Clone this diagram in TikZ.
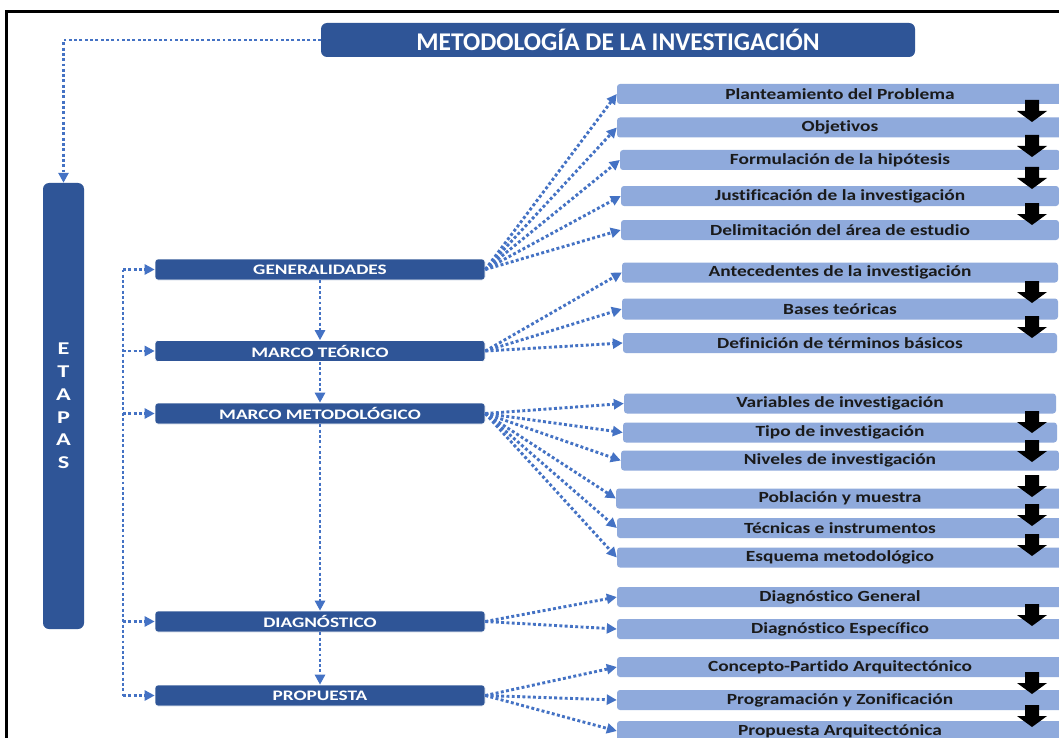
\documentclass[tikz,border=0pt]{standalone}
\usepackage{fontspec}
\setmainfont{Carlito}[RawFeature={-liga;-clig;-calt}]
\newfontfamily\detailfont[FakeStretch=1.25,RawFeature={-liga;-clig;-calt}]{Carlito}
\newfontfamily\stagefont[FakeStretch=1.33,RawFeature={-liga;-clig;-calt}]{Carlito}
\newfontfamily\etapafont[FakeStretch=1.35]{Carlito}
\usetikzlibrary{arrows.meta}
\definecolor{darkblue}{HTML}{2F5597}
\definecolor{lightblue}{HTML}{8FAADC}
\definecolor{lineblue}{HTML}{4472C4}
\definecolor{textdark}{HTML}{1A1A1A}
\begin{document}
\begin{tikzpicture}[x=1pt,y=-1pt,
  titlebox/.style={fill=darkblue, rounded corners=6pt, text=white, font=\fontsize{25.5}{28}\selectfont\bfseries, minimum width=594pt, minimum height=34pt, inner sep=0pt},
  etapabox/.style={fill=darkblue, rounded corners=6pt, text=white, font=\etapafont\fontsize{18}{22.8}\selectfont\bfseries, minimum width=41pt, minimum height=446pt, inner sep=0pt, align=center},
  stagebox/.style={fill=darkblue, draw=white, line width=0.6pt, rounded corners=3pt, text=white, font=\stagefont\fontsize{14.5}{16}\selectfont\bfseries, minimum width=330pt, minimum height=21pt, inner sep=0pt},
  detailbox/.style={fill=lightblue, rounded corners=3pt, text=textdark, font=\detailfont\fontsize{15.5}{17}\selectfont\bfseries, minimum width=446pt, minimum height=20pt, inner sep=0pt},
  conn/.style={draw=lineblue, line width=2.9pt, dash pattern=on 2.9pt off 2.4pt},
  arrowtip/.style={-{Triangle[length=10pt,width=10pt]}},
  blockarrow/.style={fill=black}]
\clip (0,0) rectangle (1059,738);
\fill[white] (0,0) rectangle (1059,738);
\draw[line width=3pt] (6,750) -- (6,12) -- (1070,12);

% title and etapas
\node[titlebox] (title) at (618,40) {METODOLOGÍA DE LA INVESTIGACIÓN};
\node[etapabox] (etapas) at (63.5,406) {E\\T\\A\\P\\A\\S};

% stages
\node[stagebox] (gen)  at (320,269.5) {GENERALIDADES};
\node[stagebox] (mt)   at (320,351)   {MARCO TEÓRICO};
\node[stagebox] (mm)   at (320,413.5) {MARCO METODOLÓGICO};
\node[stagebox] (diag) at (320,621.5) {DIAGNÓSTICO};
\node[stagebox] (prop) at (320,695.5) {PROPUESTA};

% details
\node[detailbox] (d1)  at (840,94)    {Planteamiento del Problema};
\node[detailbox] (d2)  at (840,127.5) {Objetivos};
\node[detailbox, minimum width=440pt] (d3)  at (840,160)   {Formulación de la hipótesis};
\node[detailbox, minimum width=438pt] (d4)  at (840,196)   {Justificación de la investigación};
\node[detailbox, minimum width=438pt] (d5)  at (840,230)   {Delimitación del área de estudio};
\node[detailbox, minimum width=436pt] (d6)  at (840,272.5) {Antecedentes de la investigación};
\node[detailbox, minimum width=436pt, minimum height=21pt] (d7)  at (840,309)   {Bases teóricas};
\node[detailbox, minimum width=434pt] (d8)  at (840,343)   {Definición de términos básicos};
\node[detailbox, minimum width=432pt] (d9)  at (840,403.5) {Variables de investigación};
\node[detailbox, minimum width=434pt] (d10) at (840,432.5) {Tipo de investigación};
\node[detailbox, minimum width=438pt] (d11) at (840,460.5) {Niveles de investigación};
\node[detailbox, minimum width=448pt] (d12) at (840,498.5) {Población y muestra};
\node[detailbox] (d13) at (840,528)   {Técnicas e instrumentos};
\node[detailbox] (d14) at (840,557.5) {Esquema metodológico};
\node[detailbox] (d15) at (840,597)   {Diagnóstico General};
\node[detailbox] (d16) at (840,629)   {Diagnóstico Específico};
\node[detailbox] (d17) at (840,667)   {Concepto-Partido Arquitectónico};
\node[detailbox] (d18) at (840,700)   {Programación y Zonificación};
\node[detailbox] (d19) at (840,731)   {Propuesta Arquitectónica};

% title to etapas
\draw[conn,arrowtip] (title.west) -| (etapas.north);

% left bracket
\coordinate (lt) at (123,269.5);
\coordinate (lb) at (123,695.5);
\draw[conn] (lt) -- (lb);
\foreach \s in {gen,mt,mm,diag,prop}
  \draw[conn,arrowtip] (lt |- \s.west) -- (\s.west);

% vertical chain
\draw[conn,arrowtip] (gen.south) -- (mt.north);
\draw[conn,arrowtip] (mt.south) -- (mm.north);
\draw[conn,arrowtip] (mm.south) -- (diag.north);
\draw[conn,arrowtip] (diag.south) -- (prop.north);

% fans
\foreach \d in {d1,d2,d3,d4,d5}
  \draw[conn,arrowtip] (gen.east) -- (\d.west);
\foreach \d in {d6,d7,d8}
  \draw[conn,arrowtip] (mt.east) -- (\d.west);
\foreach \d in {d9,d10,d11,d12,d13,d14}
  \draw[conn,arrowtip] (mm.east) -- (\d.west);
\foreach \d in {d15,d16}
  \draw[conn,arrowtip] (diag.east) -- (\d.west);
\foreach \d in {d17,d18,d19}
  \draw[conn,arrowtip] (prop.east) -- (\d.west);

% black block arrows
\foreach \t in {100,135,167,203,281,316,411,440,475,504,534,604,672,705}
  \fill[blockarrow] (1025,\t) -- (1039,\t) -- (1039,\t+11) -- (1047,\t+11)
     -- (1032,\t+22) -- (1017,\t+11) -- (1025,\t+11) -- cycle;
\end{tikzpicture}
\end{document}
